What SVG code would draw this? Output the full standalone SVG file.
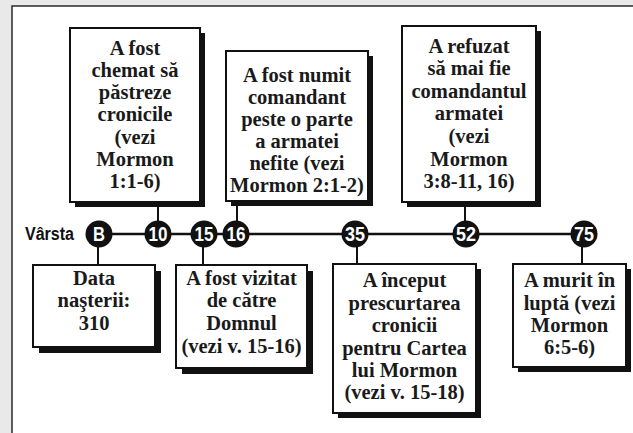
<svg xmlns="http://www.w3.org/2000/svg" width="633" height="433" viewBox="0 0 633 433">
<style>
.bg{fill:#e8e9e8}
.panel{fill:#fff;stroke:#2a2a2a;stroke-width:1.5}
.box{fill:#fff;stroke:#111;stroke-width:2}
.sh{fill:#111}
.t{font-family:"Liberation Serif",serif;font-weight:bold;font-size:20.5px;fill:#1a1a1a;text-anchor:middle}
.c{fill:#111}
.n{font-family:"Liberation Sans",sans-serif;font-weight:bold;font-size:20px;fill:#fff;text-anchor:middle}
.lbl{font-family:"Liberation Sans",sans-serif;font-weight:bold;font-size:18px;fill:#111}
.ln{stroke:#111;stroke-width:2.5;fill:none}
.cn{stroke:#111;stroke-width:2;fill:none}
</style>
<rect class="bg" x="0" y="0" width="633" height="433"/>
<rect class="panel" x="12" y="6" width="630" height="440"/>
<g id="connectors">
<line class="ln" x1="99" y1="234" x2="584" y2="234"/>
<line class="cn" x1="158" y1="202" x2="158" y2="222"/>
<line class="cn" x1="237" y1="201" x2="237" y2="222"/>
<line class="cn" x1="465" y1="202" x2="465" y2="222"/>
<line class="cn" x1="98" y1="246" x2="98" y2="265"/>
<line class="cn" x1="203" y1="246" x2="203" y2="265"/>
<line class="cn" x1="357" y1="246" x2="357" y2="264"/>
<line class="cn" x1="582" y1="246" x2="582" y2="264"/>
</g>
<g id="timeline">
<text class="lbl" x="25" y="240" textLength="49" lengthAdjust="spacingAndGlyphs">Vârsta</text>
<g id="age-B"><circle class="c" cx="99" cy="234" r="13.5"/><text class="n" x="99" y="241" textLength="12" lengthAdjust="spacingAndGlyphs">B</text></g>
<g id="age-10"><circle class="c" cx="158" cy="234" r="13.5"/><text class="n" x="158" y="241" textLength="19" lengthAdjust="spacingAndGlyphs">10</text></g>
<g id="age-15"><circle class="c" cx="204" cy="234" r="13.5"/><text class="n" x="204" y="241" textLength="19" lengthAdjust="spacingAndGlyphs">15</text></g>
<g id="age-16"><circle class="c" cx="236" cy="234" r="13.5"/><text class="n" x="236" y="241" textLength="19" lengthAdjust="spacingAndGlyphs">16</text></g>
<g id="age-35"><circle class="c" cx="355" cy="234" r="13.5"/><text class="n" x="355" y="241" textLength="20" lengthAdjust="spacingAndGlyphs">35</text></g>
<g id="age-52"><circle class="c" cx="466" cy="234" r="13.5"/><text class="n" x="466" y="241" textLength="20" lengthAdjust="spacingAndGlyphs">52</text></g>
<g id="age-75"><circle class="c" cx="584" cy="234" r="13.5"/><text class="n" x="584" y="241" textLength="20" lengthAdjust="spacingAndGlyphs">75</text></g>
</g>
<g id="box-10">
<rect class="sh" x="75" y="33" width="130" height="174"/>
<rect class="box" x="70" y="28" width="130" height="174"/>
<text class="t" x="135" y="55">A fost</text>
<text class="t" x="135" y="77">chemat să</text>
<text class="t" x="135" y="99">păstreze</text>
<text class="t" x="135" y="121">cronicile</text>
<text class="t" x="135" y="144">(vezi</text>
<text class="t" x="135" y="166">Mormon</text>
<text class="t" x="135" y="188">1:1-6)</text>
</g>
<g id="box-16">
<rect class="sh" x="231" y="56" width="142" height="150"/>
<rect class="box" x="226" y="51" width="142" height="150"/>
<text class="t" x="297" y="82">A fost numit</text>
<text class="t" x="297" y="104">comandant</text>
<text class="t" x="297" y="126">peste o parte</text>
<text class="t" x="297" y="148">a armatei</text>
<text class="t" x="297" y="170">nefite (vezi</text>
<text class="t" x="297" y="192">Mormon 2:1-2)</text>
</g>
<g id="box-52">
<rect class="sh" x="407" y="31" width="134" height="176"/>
<rect class="box" x="402" y="26" width="134" height="176"/>
<text class="t" x="469" y="53">A refuzat</text>
<text class="t" x="469" y="75">să mai fie</text>
<text class="t" x="469" y="98">comandantul</text>
<text class="t" x="469" y="120">armatei</text>
<text class="t" x="469" y="143">(vezi</text>
<text class="t" x="469" y="166">Mormon</text>
<text class="t" x="469" y="188">3:8-11, 16)</text>
</g>
<g id="box-B">
<rect class="sh" x="39" y="271" width="122" height="82"/>
<rect class="box" x="33" y="265" width="122" height="82"/>
<text class="t" x="94" y="285">Data</text>
<text class="t" x="94" y="307">naşterii:</text>
<text class="t" x="94" y="330">310</text>
</g>
<g id="box-15">
<rect class="sh" x="182" y="271" width="131" height="103"/>
<rect class="box" x="176" y="265" width="131" height="103"/>
<text class="t" x="241.5" y="285">A fost vizitat</text>
<text class="t" x="241.5" y="307">de către</text>
<text class="t" x="241.5" y="330">Domnul</text>
<text class="t" x="241.5" y="353">(vezi v. 15-16)</text>
</g>
<g id="box-35">
<rect class="sh" x="338" y="269" width="143" height="149"/>
<rect class="box" x="333" y="264" width="143" height="149"/>
<text class="t" x="404.5" y="287">A început</text>
<text class="t" x="404.5" y="310">prescurtarea</text>
<text class="t" x="404.5" y="332">cronicii</text>
<text class="t" x="404.5" y="355">pentru Cartea</text>
<text class="t" x="404.5" y="377">lui Mormon</text>
<text class="t" x="404.5" y="399">(vezi v. 15-18)</text>
</g>
<g id="box-75">
<rect class="sh" x="518" y="269" width="113" height="103"/>
<rect class="box" x="513" y="264" width="113" height="103"/>
<text class="t" x="569.5" y="287">A murit în</text>
<text class="t" x="569.5" y="310">luptă (vezi</text>
<text class="t" x="569.5" y="332">Mormon</text>
<text class="t" x="569.5" y="354">6:5-6)</text>
</g>
</svg>
